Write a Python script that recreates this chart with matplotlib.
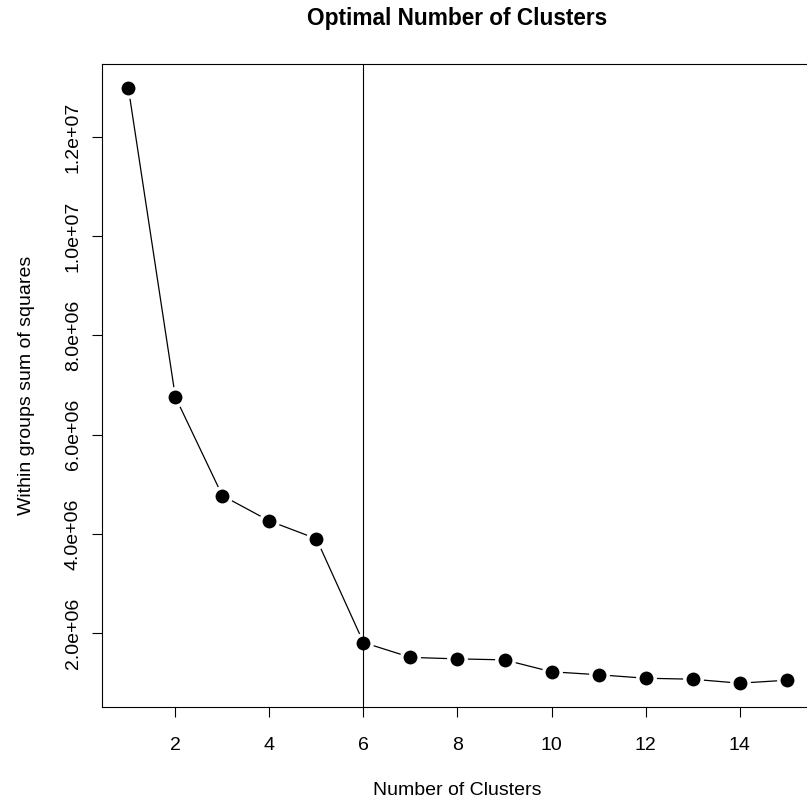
import numpy as np
import matplotlib

matplotlib.use("Agg")
import matplotlib.pyplot as plt
from matplotlib.ticker import FuncFormatter

# within-groups sum of squares for k = 1..15
n_clusters = list(range(1, 16))
wss = [12.99e6, 6.76e6, 4.77e6, 4.26e6, 3.90e6, 1.81e6, 1.51e6, 1.48e6,
       1.46e6, 1.22e6, 1.16e6, 1.09e6, 1.07e6, 0.99e6, 1.05e6]
best_k = 6
x_ticks = [2, 4, 6, 8, 10, 12, 14]
y_ticks = [2e6, 4e6, 6e6, 8e6, 1e7, 1.2e7]

plt.rcParams["font.family"] = ["Liberation Sans", "DejaVu Sans"]

W, H = 807, 802
fig = plt.figure(figsize=(W / 100, H / 100), dpi=100)
# plot box runs past the right edge of the image like the original
ax = fig.add_axes([102 / W, (H - 707) / H, (813 - 102) / W, (707 - 64) / H])

ax.plot(n_clusters, wss, color="black", lw=0.9, marker="o", ms=12.5,
        mfc="black", mec="white", mew=2.5, zorder=3)
ax.axvline(best_k, color="black", lw=0.8, zorder=4)

# R-style 4% padding around data range
xr = max(n_clusters) - min(n_clusters)
ax.set_xlim(min(n_clusters) - 0.04 * xr, max(n_clusters) + 0.04 * xr)
yr = max(wss) - min(wss)
ax.set_ylim(min(wss) - 0.04 * yr, max(wss) + 0.04 * yr)

ax.set_xticks(x_ticks)
ax.set_yticks(y_ticks)
ax.yaxis.set_major_formatter(FuncFormatter(lambda v, p: f"{v:.1e}"))
ax.tick_params(direction="out", length=7, width=0.8, labelsize=14)
ax.tick_params(axis="x", pad=14.5)
ax.tick_params(axis="y", pad=7.5)
for lab in ax.get_yticklabels():
    lab.set_rotation(90)
    lab.set_va("center")
for s in ax.spines.values():
    s.set_linewidth(0.8)

ax.set_xlabel("Number of Clusters", fontsize=14, labelpad=20)
ax.set_ylabel("Within groups sum of squares", fontsize=14, labelpad=21.5)
fig.text(457 / W, 1 - 19 / H, "Optimal Number of Clusters",
         ha="center", va="center", fontsize=16.3, fontweight="bold")

plt.savefig("out.png", dpi=100)
